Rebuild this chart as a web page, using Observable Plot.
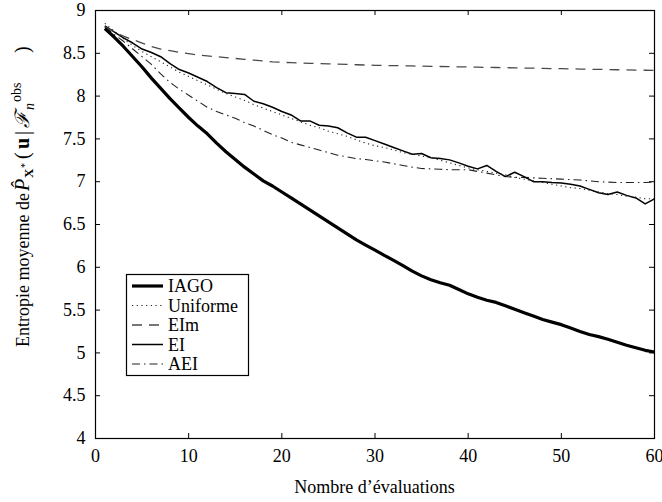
<!DOCTYPE html>
<html>
<head>
<meta charset="utf-8">
<script src="https://cdn.jsdelivr.net/npm/d3@7"></script>
<script src="https://cdn.jsdelivr.net/npm/@observablehq/plot@0.6"></script>
<style>
  html, body { margin: 0; padding: 0; background: #fff; }
  #chart { width: 662px; height: 502px; }
  #chart svg text { font-family: "Liberation Serif", "Times New Roman", serif; }
</style>
</head>
<body>
<div id="chart"></div>
<script>
// ---- data ----
const evaluations = d3.range(1, 61);
const xTicks = [0, 10, 20, 30, 40, 50, 60];
const yTicks = [4, 4.5, 5, 5.5, 6, 6.5, 7, 7.5, 8, 8.5, 9];
const seriesNames = ["IAGO", "Uniforme", "EIm", "EI", "AEI"];

const iago = [8.79, 8.69, 8.58, 8.46, 8.34, 8.21, 8.09, 7.97, 7.86, 7.75,
  7.65, 7.56, 7.45, 7.35, 7.26, 7.17, 7.09, 7.01, 6.95, 6.88,
  6.81, 6.74, 6.67, 6.60, 6.53, 6.46, 6.39, 6.32, 6.26, 6.20,
  6.14, 6.08, 6.02, 5.955, 5.90, 5.855, 5.82, 5.79, 5.74, 5.69,
  5.65, 5.615, 5.59, 5.55, 5.51, 5.47, 5.43, 5.39, 5.36, 5.33,
  5.29, 5.25, 5.215, 5.19, 5.16, 5.125, 5.09, 5.06, 5.03, 5.01];

const uniforme = [8.85, 8.76, 8.67, 8.59, 8.52, 8.46, 8.40, 8.34, 8.28, 8.23,
  8.18, 8.13, 8.08, 8.03, 7.99, 7.95, 7.90, 7.86, 7.82, 7.78,
  7.74, 7.70, 7.66, 7.63, 7.59, 7.56, 7.53, 7.49, 7.45, 7.42,
  7.40, 7.37, 7.34, 7.32, 7.30, 7.28, 7.25, 7.22, 7.19, 7.16,
  7.14, 7.12, 7.10, 7.08, 7.05, 7.03, 7.01, 6.99, 6.97, 6.95,
  6.93, 6.92, 6.90, 6.88, 6.86, 6.85, 6.83, 6.82, 6.80, 6.80];

const eim = [8.81, 8.75, 8.70, 8.66, 8.62, 8.58, 8.55, 8.53, 8.51, 8.495,
  8.48, 8.47, 8.46, 8.45, 8.44, 8.43, 8.42, 8.41, 8.40, 8.395,
  8.39, 8.386, 8.383, 8.38, 8.376, 8.373, 8.37, 8.366, 8.363, 8.36,
  8.358, 8.356, 8.354, 8.352, 8.35, 8.348, 8.346, 8.344, 8.342, 8.34,
  8.338, 8.336, 8.334, 8.332, 8.33, 8.328, 8.326, 8.324, 8.322, 8.32,
  8.318, 8.316, 8.314, 8.312, 8.31, 8.308, 8.306, 8.304, 8.302, 8.30];

const ei = [8.82, 8.75, 8.68, 8.62, 8.55, 8.51, 8.46, 8.38, 8.31, 8.27,
  8.22, 8.17, 8.10, 8.04, 8.03, 8.02, 7.94, 7.91, 7.87, 7.82,
  7.78, 7.71, 7.71, 7.66, 7.65, 7.63, 7.57, 7.52, 7.52, 7.48,
  7.44, 7.40, 7.36, 7.32, 7.33, 7.28, 7.27, 7.255, 7.22, 7.18,
  7.15, 7.19, 7.12, 7.06, 7.11, 7.06, 7.00, 7.00, 6.99, 6.985,
  6.97, 6.95, 6.91, 6.87, 6.85, 6.88, 6.84, 6.81, 6.74, 6.80];

const aei = [8.81, 8.72, 8.64, 8.55, 8.46, 8.37, 8.26, 8.16, 8.08, 8.01,
  7.94, 7.87, 7.82, 7.78, 7.74, 7.69, 7.65, 7.60, 7.55, 7.51,
  7.46, 7.43, 7.40, 7.37, 7.34, 7.31, 7.29, 7.27, 7.26, 7.245,
  7.23, 7.21, 7.19, 7.17, 7.155, 7.15, 7.145, 7.14, 7.14, 7.14,
  7.12, 7.10, 7.08, 7.06, 7.05, 7.05, 7.045, 7.04, 7.035, 7.03,
  7.025, 7.02, 7.01, 7.00, 6.995, 6.99, 6.99, 6.99, 6.99, 6.995];

// ---- styles ----
const styles = {
  IAGO:     {stroke: "#000", strokeWidth: 3.2, dash: null},
  Uniforme: {stroke: "#222", strokeWidth: 1.1, dash: "1.2,3.5"},
  EIm:      {stroke: "#4a4a4a", strokeWidth: 1.3, dash: "10,7"},
  EI:       {stroke: "#000", strokeWidth: 1.5, dash: null},
  AEI:      {stroke: "#222", strokeWidth: 1.1, dash: "8,4,1.5,4"}
};
const valuesBy = {IAGO: iago, Uniforme: uniforme, EIm: eim, EI: ei, AEI: aei};

const W = 662, H = 502;
const mL = 95, mR = 8, mT = 10, mB = 64;
const pw = W - mL - mR, ph = H - mT - mB;
const tickLen = 5;
const font = "Liberation Serif, Times New Roman, serif";

const lineMarks = seriesNames.slice().reverse().map(name => {
  const data = evaluations.map((x, i) => ({x, y: valuesBy[name][i]}));
  const s = styles[name];
  return Plot.line(data, {x: "x", y: "y", stroke: s.stroke, strokeWidth: s.strokeWidth,
    strokeDasharray: s.dash ?? undefined, strokeLinejoin: "round", strokeLinecap: "butt"});
});

const chart = Plot.plot({
  width: W, height: H,
  marginLeft: mL, marginRight: mR, marginTop: mT, marginBottom: mB,
  x: {domain: [0, 60]},
  y: {domain: [4, 9]},
  style: {fontFamily: font, fontSize: "18px", background: "#fff", color: "#000"},
  marks: [
    Plot.axisX({ticks: xTicks, tickSize: 0, tickPadding: 11, label: null, fontSize: 18, tickFormat: d => String(d)}),
    Plot.axisY({ticks: yTicks, tickSize: 0, tickPadding: 10, label: null, fontSize: 18, tickFormat: d => String(d)}),
    // inward ticks on all four sides
    Plot.tickX(xTicks, {x: d => d, insetTop: ph - tickLen, stroke: "#000"}),
    Plot.tickX(xTicks, {x: d => d, insetBottom: ph - tickLen, stroke: "#000"}),
    Plot.tickY(yTicks, {y: d => d, insetRight: pw - tickLen, stroke: "#000"}),
    Plot.tickY(yTicks, {y: d => d, insetLeft: pw - tickLen, stroke: "#000"}),
    ...lineMarks,
    Plot.frame({stroke: "#000", strokeWidth: 1.2})
  ]
});

document.getElementById("chart").appendChild(chart);

// ---- annotations: axis titles and legend ----
const svg = d3.select(chart);

svg.append("text")
  .attr("x", mL + pw / 2).attr("y", 493)
  .attr("text-anchor", "middle")
  .attr("font-size", 18).attr("fill", "#000")
  .text("Nombre d\u2019évaluations");

const yl = svg.append("text")
  .attr("transform", "translate(29,347) rotate(-90)")
  .attr("text-anchor", "start")
  .attr("font-size", 18).attr("fill", "#000");
yl.append("tspan").attr("x", 0).attr("y", 0).text("Entropie moyenne de");
yl.append("tspan").attr("x", 156).attr("y", 0).attr("font-size", 20).attr("font-style", "italic").text("P\u0302");
yl.append("tspan").attr("x", 169).attr("y", 4).attr("font-size", 13).attr("font-weight", "bold").text("X");
yl.append("tspan").attr("x", 179).attr("y", -1).attr("font-size", 10).text("*");
yl.append("tspan").attr("x", 188).attr("y", 0).attr("font-size", 20).text("(");
yl.append("tspan").attr("x", 198).attr("y", 0).attr("font-size", 20).attr("font-weight", "bold").text("u");
yl.append("tspan").attr("x", 212).attr("y", 0).attr("font-size", 20).text("|");
yl.append("tspan").attr("x", 219).attr("y", 0).attr("font-size", 20).attr("font-style", "italic").text("\u2131");
yl.append("tspan").attr("x", 237).attr("y", 5).attr("font-size", 14).attr("font-style", "italic").text("n");
yl.append("tspan").attr("x", 245).attr("y", -8).attr("font-size", 14).text("obs");
yl.append("tspan").attr("x", 294).attr("y", 0).attr("font-size", 20).text(")");

// legend
const lg = svg.append("g");
lg.append("rect").attr("x", 126.5).attr("y", 274.5).attr("width", 122).attr("height", 101)
  .attr("fill", "#fff").attr("stroke", "#000").attr("stroke-width", 1.2);
seriesNames.forEach((name, i) => {
  const cy = 286 + i * 19.5;
  const s = styles[name];
  lg.append("line").attr("x1", 132).attr("x2", 163).attr("y1", cy).attr("y2", cy)
    .attr("stroke", s.stroke).attr("stroke-width", s.strokeWidth)
    .attr("stroke-dasharray", s.dash);
  lg.append("text").attr("x", 168).attr("y", cy + 6)
    .attr("text-anchor", "start")
    .attr("font-size", 18).attr("fill", "#000")
    .text(name);
});
</script>
</body>
</html>
